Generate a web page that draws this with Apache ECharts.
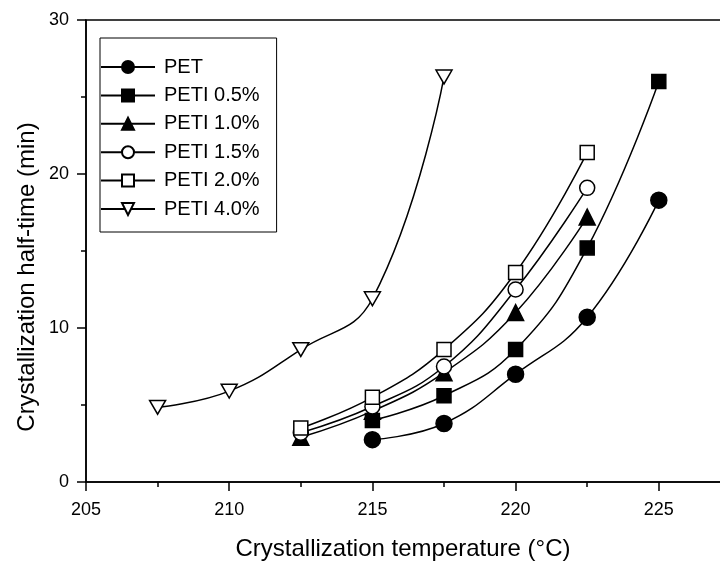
<!DOCTYPE html>
<html>
<head>
<meta charset="utf-8">
<script src="https://cdn.jsdelivr.net/npm/echarts@6/dist/echarts.min.js"></script>
<style>html,body{margin:0;padding:0;background:#fff;}#c{width:720px;height:563px;}</style>
</head>
<body>
<div id="c"></div>
<script>
const seriesNames = ['PET', 'PETI 0.5%', 'PETI 1.0%', 'PETI 1.5%', 'PETI 2.0%', 'PETI 4.0%'];
const pet    = [[215, 2.75], [217.5, 3.8], [220, 7.0], [222.5, 10.7], [225, 18.3]];
const peti05 = [[215, 4.0], [217.5, 5.6], [220, 8.6], [222.5, 15.2], [225, 26.0]];
const peti10 = [[212.5, 2.9], [215, 4.6], [217.5, 7.1], [220, 11.0], [222.5, 17.2]];
const peti15 = [[212.5, 3.2], [215, 4.9], [217.5, 7.5], [220, 12.5], [222.5, 19.1]];
const peti20 = [[212.5, 3.5], [215, 5.5], [217.5, 8.6], [220, 13.6], [222.5, 21.4]];
const peti40 = [[207.5, 4.85], [210, 5.9], [212.5, 8.6], [215, 11.9], [217.5, 26.3]];
const xTicks = [205, 210, 215, 220, 225];
const yTicks = [0, 10, 20, 30];

const FONT = 'Liberation Sans, Arial, sans-serif';
const downTri = 'path://M0,0 L20,0 L10,17.3 Z';
const styles = [
  { symbol: 'circle', size: 16, fill: '#000' },
  { symbol: 'rect', size: 14, fill: '#000' },
  { symbol: 'triangle', size: 16, fill: '#000' },
  { symbol: 'circle', size: 15, fill: '#fff' },
  { symbol: 'rect', size: 14, fill: '#fff' },
  { symbol: downTri, size: 16, fill: '#fff' }
];
const datas = [pet, peti05, peti10, peti15, peti20, peti40];

const chart = echarts.init(document.getElementById('c'), null, { renderer: 'canvas' });
chart.setOption({
  animation: false,
  backgroundColor: '#fff',
  grid: { left: 86, right: -82, top: 20, bottom: 81, containLabel: false, outerBoundsMode: 'none',
    show: true, borderColor: '#000', borderWidth: 1.5 },
  legend: {
    orient: 'vertical',
    left: 100, top: 38,
    padding: [19, 17, 13, 0],
    borderColor: '#000', borderWidth: 1,
    itemWidth: 54, itemHeight: 15, itemGap: 8.4,
    textStyle: { fontFamily: FONT, fontSize: 20, lineHeight: 20, color: '#000', padding: [0, 0, 0, 4] },
    data: seriesNames
  },
  xAxis: {
    type: 'value', min: 205, max: 230, interval: 5,
    axisLine: { lineStyle: { color: '#000', width: 1.5 } },
    axisTick: { show: true, length: 9, lineStyle: { color: '#000', width: 1.5 } },
    minorTick: { show: true, splitNumber: 2, length: 5, lineStyle: { color: '#000', width: 1.5 } },
    axisLabel: { fontFamily: FONT, fontSize: 18, color: '#000', margin: 19,
      formatter: v => (xTicks.indexOf(v) >= 0 ? String(v) : '') },
    splitLine: { show: false }
  },
  yAxis: {
    type: 'value', min: 0, max: 30, interval: 10,
    axisLine: { lineStyle: { color: '#000', width: 1.5 } },
    axisTick: { show: true, length: 9, lineStyle: { color: '#000', width: 1.5 } },
    minorTick: { show: true, splitNumber: 2, length: 5, lineStyle: { color: '#000', width: 1.5 } },
    axisLabel: { fontFamily: FONT, fontSize: 18, color: '#000', margin: 17,
      formatter: v => (yTicks.indexOf(v) >= 0 ? String(v) : '') },
    splitLine: { show: false }
  },
  graphic: [{
    type: 'text', x: 403, y: 549,
    style: { text: 'Crystallization temperature (\u00B0C)', fontFamily: FONT, fontSize: 24, fill: '#000',
      align: 'center', verticalAlign: 'middle' }
  }, {
    type: 'text', x: 27, y: 277, rotation: Math.PI / 2,
    style: { text: 'Crystallization half-time (min)', fontFamily: FONT, fontSize: 24, fill: '#000',
      align: 'center', verticalAlign: 'middle' }
  }],
  series: seriesNames.map((n, i) => ({
    name: n, type: 'line', data: datas[i], smooth: 0.45,
    symbol: styles[i].symbol, symbolSize: styles[i].size, symbolKeepAspect: true,
    showAllSymbol: true,
    lineStyle: { color: '#000', width: 1.5 },
    itemStyle: { color: styles[i].fill, borderColor: '#000', borderWidth: 1.5, opacity: 1 },
    emphasis: { disabled: true }
  }))
});
</script>
</body>
</html>
